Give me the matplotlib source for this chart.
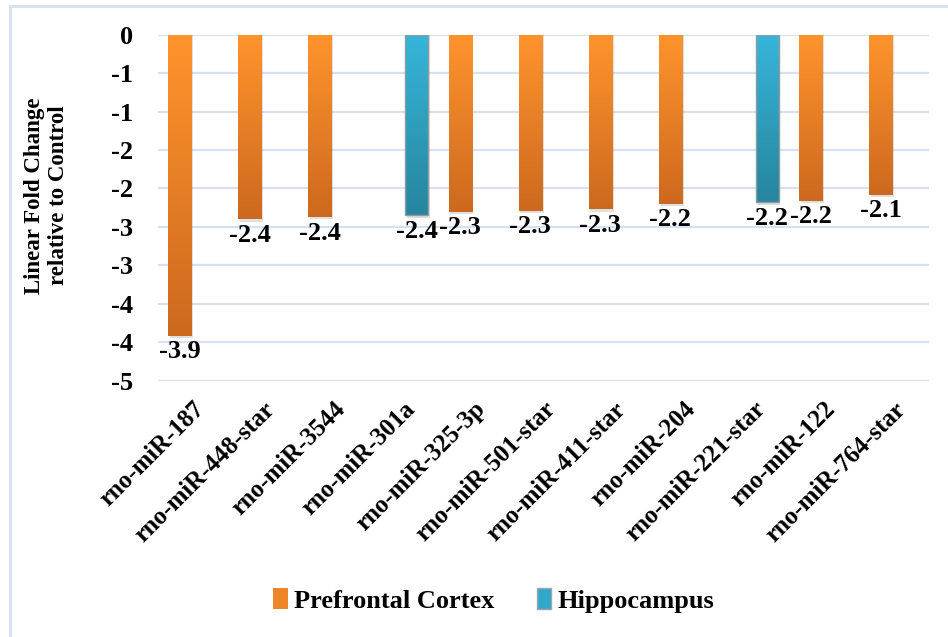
import matplotlib.pyplot as plt
import matplotlib.patches as mpatches
from matplotlib.colors import LinearSegmentedColormap
import numpy as np

mirnas = ["rno-miR-187", "rno-miR-448-star", "rno-miR-3544", "rno-miR-301a",
          "rno-miR-325-3p", "rno-miR-501-star", "rno-miR-411-star", "rno-miR-204",
          "rno-miR-221-star", "rno-miR-122", "rno-miR-764-star"]
# linear fold change, None where the miRNA is not changed in that region
prefrontal = [-3.91, -2.40, -2.37, None, -2.30, -2.29, -2.27, -2.20, None, -2.16, -2.08]
hippocampus = [None, None, None, -2.35, None, None, None, None, -2.18, None, None]
y_ticks = [0, -0.5, -1.0, -1.5, -2.0, -2.5, -3.0, -3.5, -4.0, -4.5]

serif = ["Liberation Serif", "DejaVu Serif"]
plt.rcParams["font.family"] = serif
plt.rcParams["font.weight"] = "bold"

orange_cmap = LinearSegmentedColormap.from_list("pfc", ["#FF942D", "#CD691E"])
blue_cmap = LinearSegmentedColormap.from_list("hip", ["#36B6DA", "#27859E"])

fig = plt.figure(figsize=(9.48, 6.37), dpi=100)
ax = fig.add_axes([0.1667, 0.402, 0.8133, 0.5438])

x = np.arange(len(mirnas))
width = 0.33
offset = 0.19
grad = np.linspace(0, 1, 256).reshape(-1, 1)


def draw_series(values, shift, cmap, edge):
    for xi, v in zip(x, values):
        if v is None:
            continue
        xc = xi + shift
        # soft drop shadow
        ax.bar(xc + 0.025, v - 0.03, width, bottom=0, color="#000000", alpha=0.12,
               zorder=2, linewidth=0)
        bar = ax.bar(xc, v, width, bottom=0, color="none", edgecolor=edge,
                     linewidth=1.0 if edge != "none" else 0, zorder=4)[0]
        im = ax.imshow(grad, cmap=cmap, aspect="auto", zorder=3,
                       extent=(xc - width / 2, xc + width / 2, v, 0), origin="upper")
        im.set_clip_path(bar)
        ax.text(xc, v - 0.06, f"{v:.1f}", ha="center", va="top", fontsize=19,
                fontweight="bold", zorder=5)


draw_series(prefrontal, -offset, orange_cmap, "none")
draw_series(hippocampus, offset, blue_cmap, "#8C9CA2")

# whole-number tick labels, halves rounded away from zero
def tick_text(t):
    return str(int(np.floor(t))) if t != int(t) else str(int(t))


ax.set_xlim(-0.5, len(mirnas) - 0.5)
ax.set_ylim(-4.5, 0)
ax.set_yticks(y_ticks)
ax.set_yticklabels([tick_text(t) for t in y_ticks], fontsize=19, fontweight="bold")
ax.set_xticks(x)
ax.set_xticklabels(mirnas, rotation=45, ha="right", rotation_mode="anchor",
                   fontsize=18, fontweight="bold")
ax.tick_params(axis="both", length=0)
ax.tick_params(axis="y", pad=18)
ax.tick_params(axis="x", pad=12)
for s in ax.spines.values():
    s.set_visible(False)
ax.yaxis.grid(True, color="#D6E0F0", linewidth=1.6, zorder=0)
ax.set_axisbelow(True)

fig.text(0.049, 0.693, "Linear Fold Change\nrelative to Control", rotation=90,
         ha="center", va="center", fontsize=16.5, fontweight="bold", linespacing=1.15)

handles = [mpatches.Patch(facecolor="#F08528", edgecolor="none", label="Prefrontal Cortex"),
           mpatches.Patch(facecolor="#30A8CC", edgecolor="#9AA6AA", label="Hippocampus")]
fig.legend(handles=handles, loc="center", bbox_to_anchor=(0.521, 0.058), ncol=2,
           frameon=False, prop={"family": serif, "weight": "bold", "size": 19},
           handlelength=0.55, handleheight=0.9, handletextpad=0.25, columnspacing=1.6)

# outer chart frame
fig.add_artist(plt.Line2D([0.0106, 0.0106], [0, 0.991], color="#D6E0F0", linewidth=2,
                          transform=fig.transFigure))
fig.add_artist(plt.Line2D([0.0106, 1], [0.991, 0.991], color="#D6E0F0", linewidth=2,
                          transform=fig.transFigure))

fig.savefig("out.png", dpi=100)
